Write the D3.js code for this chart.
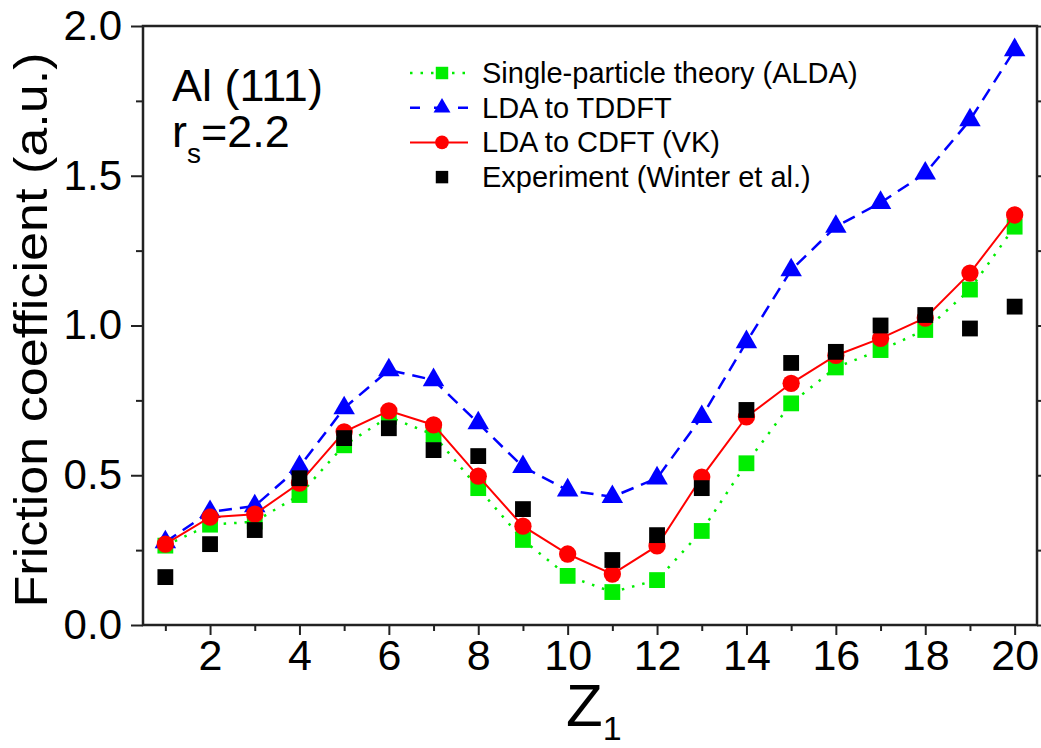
<!DOCTYPE html>
<html>
<head>
<meta charset="utf-8">
<script src="https://cdn.jsdelivr.net/npm/d3@7"></script>
<style>
  body { margin: 0; background: #fff; }
  svg { display: block; font-family: "Liberation Sans", Arial, sans-serif; }
</style>
</head>
<body>
<svg id="chart" width="1041" height="748"></svg>
<script>
// Z1 values and series
const z = [1,2,3,4,5,6,7,8,9,10,11,12,13,14,15,16,17,18,19,20];
const alda = [0.265,0.335,0.345,0.434,0.60,0.695,0.635,0.457,0.284,0.164,0.11,0.15,0.314,0.54,0.74,0.86,0.918,0.985,1.12,1.33];
const tddft = [0.277,0.378,0.397,0.528,0.724,0.851,0.818,0.674,0.528,0.45,0.428,0.49,0.695,0.945,1.185,1.33,1.41,1.508,1.686,1.92];
const cdft = [0.27,0.36,0.37,0.474,0.645,0.715,0.668,0.497,0.33,0.237,0.17,0.264,0.494,0.695,0.807,0.90,0.957,1.025,1.175,1.369];
// no experimental point at Z1 = 10
const experiment = [0.16,0.27,0.317,0.49,0.624,0.657,0.584,0.564,0.387,null,0.217,0.30,0.457,0.718,0.875,0.912,1.0,1.035,0.99,1.063];

const yMajor = [0, 0.5, 1.0, 1.5, 2.0];
const yMinor = [0.25, 0.75, 1.25, 1.75];
const xMajor = [2,4,6,8,10,12,14,16,18,20];
const xMinor = [1,3,5,7,9,11,13,15,17,19];

const legendLabels = ["Single-particle theory (ALDA)", "LDA to TDDFT", "LDA to CDFT (VK)", "Experiment (Winter et al.)"];

const svg = d3.select("#chart");
const plotLeft = 143, plotRight = 1037, plotTop = 26, plotBottom = 625;

const x = d3.scaleLinear().domain([0.5, 20.5]).range([plotLeft, plotRight]);
const y = d3.scaleLinear().domain([0, 2]).range([plotBottom, plotTop]);

// axes
const axisColor = "#222";
function styleAxis(g) {
  g.select(".domain").remove();
  g.selectAll("line").attr("stroke", axisColor).attr("stroke-width", 2);
  g.selectAll("text").attr("fill", "#000").style("font-family", "'Liberation Sans', Arial, sans-serif");
}

svg.append("g").attr("transform", `translate(${plotLeft},0)`)
  .call(d3.axisLeft(y).tickValues(yMajor).tickSize(12).tickPadding(9).tickFormat(d3.format(".1f")))
  .call(styleAxis)
  .selectAll("text").style("font-size", "42px");
svg.append("g").attr("transform", `translate(${plotLeft},0)`)
  .call(d3.axisLeft(y).tickValues(yMinor).tickSize(7).tickFormat(""))
  .call(styleAxis);
svg.append("g").attr("transform", `translate(${plotRight},0)`)
  .call(d3.axisLeft(y).tickValues(yMajor.concat(yMinor)).tickSize(-8).tickFormat(""))
  .call(styleAxis);

svg.append("g").attr("transform", `translate(0,${plotBottom})`)
  .call(d3.axisBottom(x).tickValues(xMajor).tickSize(10).tickPadding(4).tickFormat(d3.format("d")))
  .call(styleAxis)
  .selectAll("text").style("font-size", "43px");
svg.append("g").attr("transform", `translate(0,${plotBottom})`)
  .call(d3.axisBottom(x).tickValues(xMinor).tickSize(6).tickFormat(""))
  .call(styleAxis);

// frame
svg.append("rect")
  .attr("x", plotLeft).attr("y", plotTop)
  .attr("width", plotRight - plotLeft).attr("height", plotBottom - plotTop)
  .attr("fill", "none").attr("stroke", axisColor).attr("stroke-width", 2.5);

// series
const series = [
  { name: "alda", values: alda, color: "#00ee00", dash: "2.5,8", legendDash: "2.5,8", width: 2.5, symbol: d3.symbolSquare, size: 250 },
  { name: "tddft", values: tddft, color: "#0000ff", dash: "13,8", legendDash: "10,14", width: 2.5, symbol: d3.symbolTriangle, size: 200 },
  { name: "cdft", values: cdft, color: "#ff0000", dash: null, legendDash: null, width: 2, symbol: d3.symbolCircle, size: 235 },
  { name: "exp", values: experiment, color: "#000000", dash: null, legendDash: null, width: 0, symbol: d3.symbolSquare, size: 250 }
];

const line = d3.line()
  .defined(d => d[1] != null)
  .x(d => x(d[0]))
  .y(d => y(d[1]));

series.forEach(s => {
  const pts = z.map((zz, i) => [zz, s.values[i]]);
  const g = svg.append("g").attr("class", "series-" + s.name);
  if (s.width > 0) {
    g.append("path")
      .datum(pts)
      .attr("d", line)
      .attr("fill", "none")
      .attr("stroke", s.color)
      .attr("stroke-width", s.width)
      .attr("stroke-dasharray", s.dash);
  }
  g.selectAll("path.mark")
    .data(pts.filter(d => d[1] != null))
    .join("path")
    .attr("class", "mark")
    .attr("transform", d => `translate(${x(d[0])},${y(d[1])})`)
    .attr("d", d3.symbol().type(s.symbol).size(s.size))
    .attr("fill", s.color);
});

// legend
const legend = svg.append("g");
series.forEach((s, i) => {
  const cy = 73 + i * 34.7;
  const row = legend.append("g");
  if (s.width > 0) {
    row.append("line")
      .attr("x1", 410).attr("x2", 468)
      .attr("y1", cy).attr("y2", cy)
      .attr("stroke", s.color)
      .attr("stroke-width", s.width)
      .attr("stroke-dasharray", s.legendDash);
  }
  row.append("path")
    .attr("transform", `translate(442,${cy})`)
    .attr("d", d3.symbol().type(s.symbol).size(s.size * 0.62))
    .attr("fill", s.color);
  row.append("text")
    .attr("x", 482).attr("y", cy + 10)
    .style("font-size", "29px")
    .text(legendLabels[i]);
});

// annotation
svg.append("text").attr("x", 172).attr("y", 101).style("font-size", "45px").text("Al (111)");
const rs = svg.append("text").attr("x", 172).attr("y", 147).style("font-size", "45px");
rs.append("tspan").text("r");
rs.append("tspan").attr("dy", 16).style("font-size", "28px").text("s");
rs.append("tspan").attr("dy", -16).text("=2.2");

// axis titles
svg.append("text")
  .attr("transform", "translate(47,330) rotate(-90)")
  .attr("text-anchor", "middle")
  .style("font-size", "47px")
  .attr("textLength", 555)
  .attr("lengthAdjust", "spacingAndGlyphs")
  .text("Friction coefficient (a.u.)");

const zl = svg.append("text").attr("x", 566).attr("y", 726).style("font-size", "60px");
zl.append("tspan").text("Z");
zl.append("tspan").attr("dy", 14).style("font-size", "34px").text("1");
</script>
</body>
</html>
